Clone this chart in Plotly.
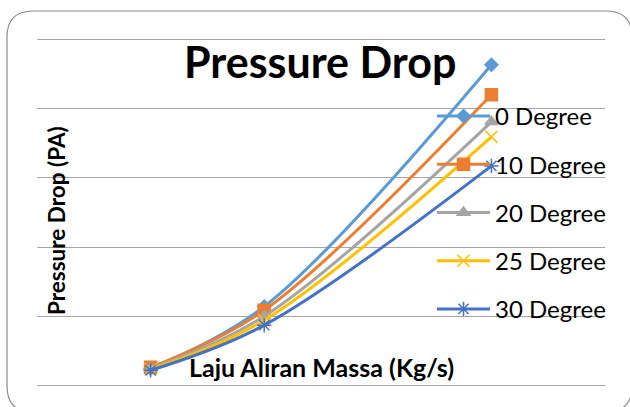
import plotly.graph_objects as go

# Data
mass_flow = [1, 2, 4]
series_names = ["0 Degree", "10 Degree", "20 Degree", "25 Degree", "30 Degree"]
deg0 = [123, 570, 2319]
deg10 = [130, 543, 2101]
deg20 = [123, 500, 1906]
deg25 = [116, 471, 1797]
deg30 = [109, 435, 1587]
series_values = [deg0, deg10, deg20, deg25, deg30]

colors = ["#5B9BD5", "#ED7D31", "#A5A5A5", "#FFC000", "#4472C4"]
symbols = ["diamond", "square", "triangle-up", "x-thin-open", "asterisk-open"]
msizes = [10, 12, 11, 12, 12]

W, H = 630, 407
L, R, T, B = 37, 25, 38, 20

fig = go.Figure()
for i, (name, vals) in enumerate(zip(series_names, series_values)):
    fig.add_trace(go.Scatter(
        x=mass_flow, y=vals, name=name, mode="lines+markers",
        legendgroup=name,
        line=dict(color=colors[i], width=3, shape="spline", smoothing=1),
        marker=dict(symbol=symbols[i], size=msizes[i], color=colors[i],
                    line=dict(color=colors[i], width=1.5)),
    ))

def px2paper(xp, yp):
    return (xp - L) / (W - L - R), (H - B - yp) / (H - T - B)

# rounded border path
x0, y0, x1, y1, r = 7, 11, 632, 412, 26
def P(xp, yp):
    a, b = px2paper(xp, yp)
    return f"{a:.5f},{b:.5f}"
path = (f"M{P(x0, y0 + r)} Q{P(x0, y0)} {P(x0 + r, y0)} L{P(x1 - r, y0)} "
        f"Q{P(x1, y0)} {P(x1, y0 + r)} L{P(x1, y1 - r)} Q{P(x1, y1)} {P(x1 - r, y1)} "
        f"L{P(x0 + r, y1)} Q{P(x0, y1)} {P(x0, y1 - r)} Z")

fig.add_shape(type="path", path=path, xref="paper", yref="paper",
              line=dict(color="#8C8C8C", width=1.2), fillcolor="rgba(0,0,0,0)", layer="below")

font = "Lato, Calibri, sans-serif"
def label(text, xp, yp, size, angle=0):
    ax_, ay_ = px2paper(xp, yp)
    fig.add_annotation(text=text, x=ax_, y=ay_, xref="paper", yref="paper",
                       xanchor="center", yanchor="middle", showarrow=False, textangle=angle,
                       font=dict(family=font, size=size, color="#000000"))

label("<b>Pressure Drop</b>", 320, 62, 43)
label("<b>Pressure Drop (PA)</b>", 56, 221, 22.5, -90)
label("<b>Laju Aliran Massa (Kg/s)</b>", 321, 367, 25)

lx, ly = px2paper(432, 94)
fig.update_layout(
    width=W, height=H,
    margin=dict(l=L, r=R, t=T, b=B),
    paper_bgcolor="white", plot_bgcolor="white",
    showlegend=True,
    legend=dict(x=lx, y=ly, xanchor="left", yanchor="top", bgcolor="rgba(0,0,0,0)",
                font=dict(family=font, size=24, color="#000000"),
                traceorder="grouped", tracegroupgap=14, itemwidth=53),
    xaxis=dict(range=[0, 5], showgrid=False, zeroline=False, showticklabels=False,
               showline=False, ticks=""),
    yaxis=dict(range=[-12, 2512], dtick=500, showgrid=True, gridcolor="#A6A6A6", gridwidth=1,
               zeroline=False, showticklabels=False, showline=False, ticks=""),
)
fig.write_html("out.html", config={"displayModeBar": False},
               post_script="document.body.style.margin='0';document.body.style.overflow='hidden';")
